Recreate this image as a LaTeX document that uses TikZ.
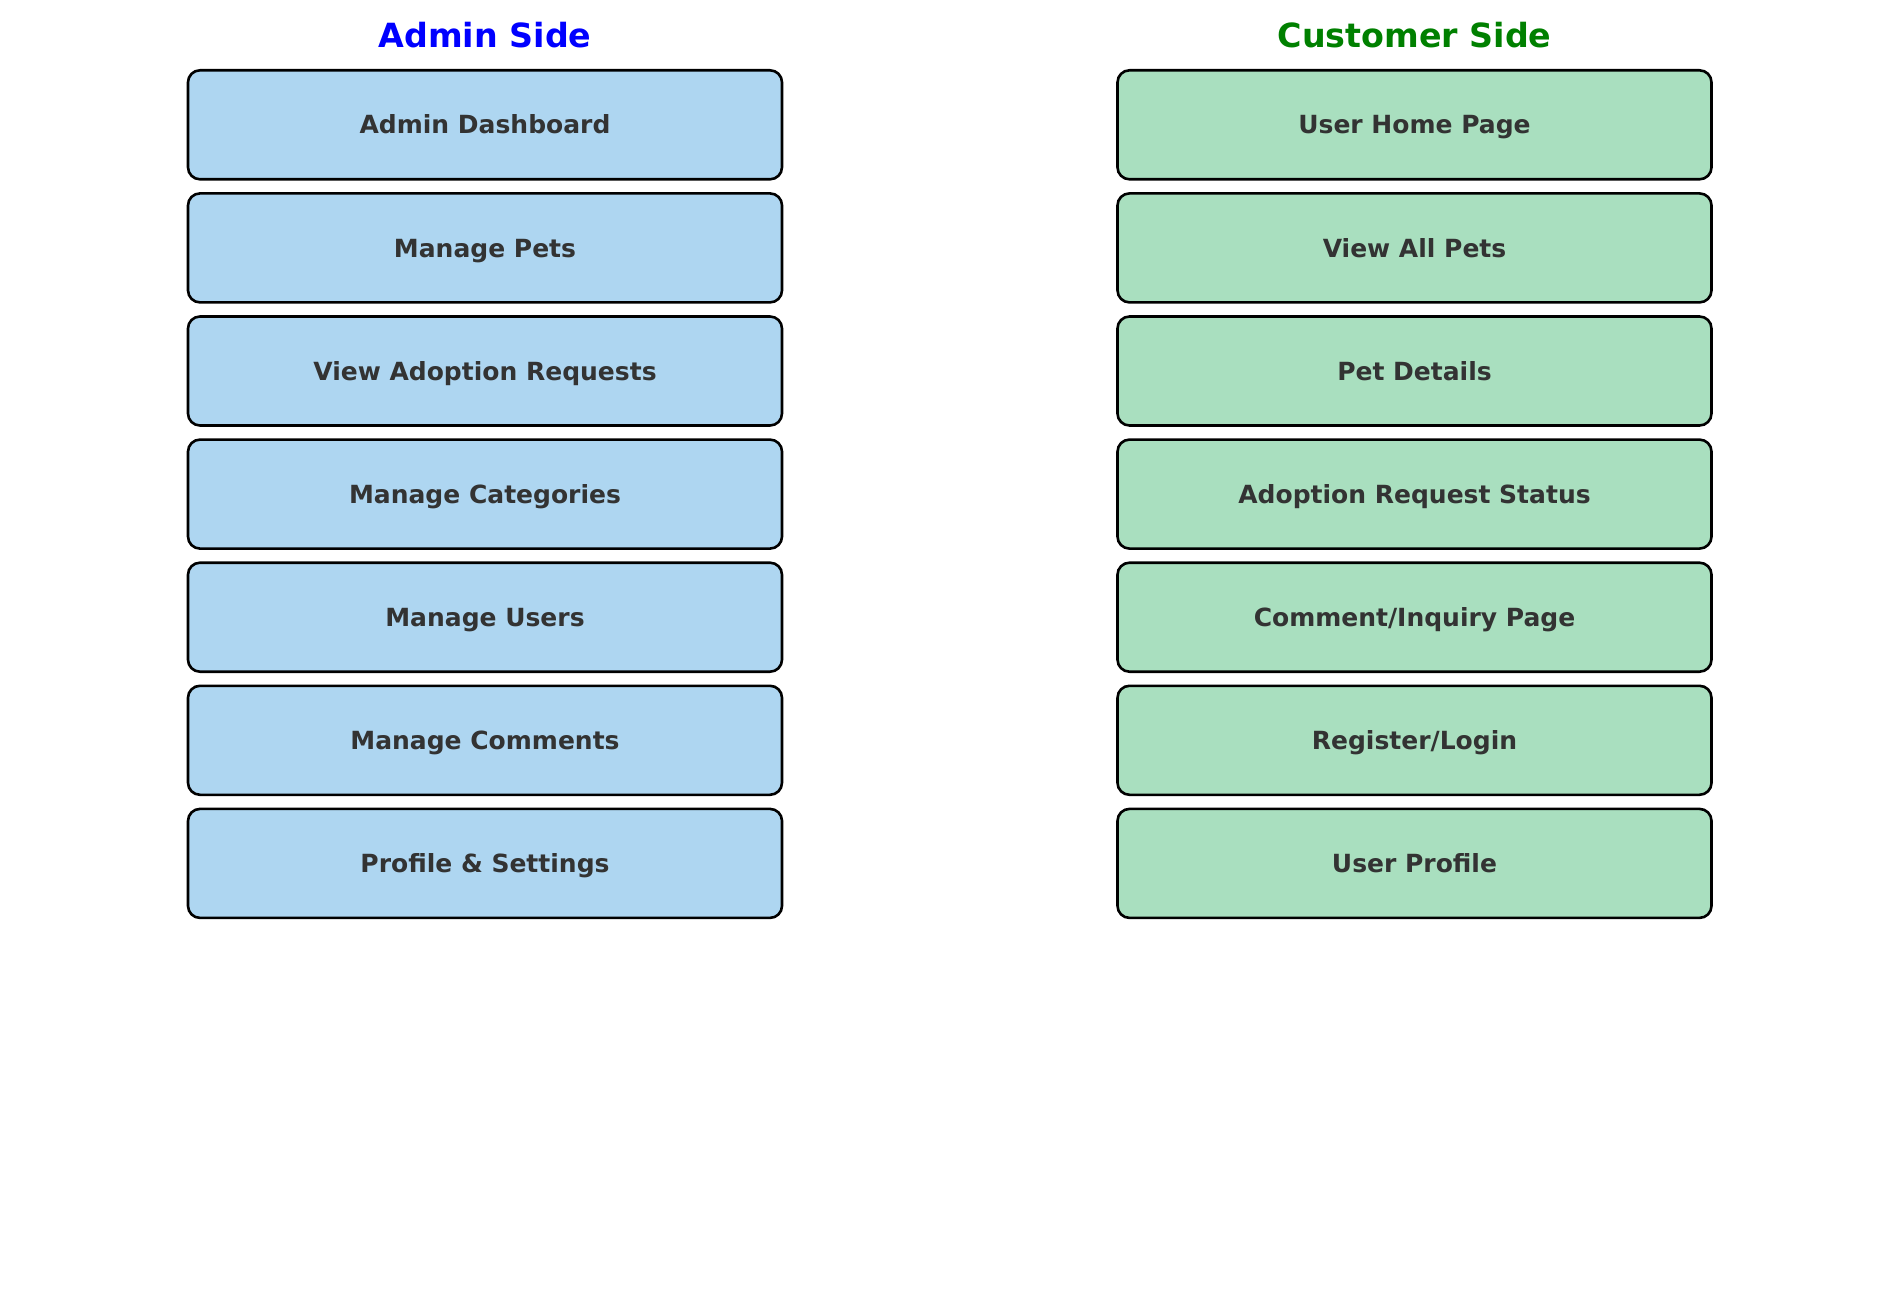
\documentclass[tikz,border=0pt]{standalone}
\usepackage{fontspec}
\setmainfont{DejaVu Sans}
\definecolor{adminfill}{HTML}{AED6F1}
\definecolor{custfill}{HTML}{A9DFBF}
\definecolor{labeltext}{HTML}{333333}
\definecolor{titleblue}{HTML}{0000FF}
\definecolor{titlegreen}{HTML}{008000}
\tikzset{
  pagebox/.style={draw=black, line width=2.6pt, rounded corners=12pt,
    minimum width=594pt, minimum height=109pt, inner sep=0pt,
    text height=18.3pt, text depth=0pt,
    text=labeltext, font=\bfseries\fontsize{25}{30}\selectfont},
  adminbox/.style={pagebox, fill=adminfill},
  custbox/.style={pagebox, fill=custfill},
  sidetitle/.style={font=\bfseries\fontsize{33.3}{40}\selectfont, inner sep=0pt,
    text height=24.3pt, text depth=0pt}
}
\begin{document}
\begin{tikzpicture}[x=1pt,y=-1pt]
\useasboundingbox (0,0) rectangle (1900,1297);
\node[sidetitle, text=titleblue] (tadmin) at (485,35) {Admin Side};
\node[sidetitle, text=titlegreen] (tcust) at (1414.5,35) {Customer Side};
\foreach \i/\txt in {0/{Admin Dashboard},1/{Manage Pets},2/{View Adoption Requests},3/{Manage Categories},4/{Manage Users},5/{Manage Comments},6/{Profile \& Settings}}{
  \node[adminbox] (a\i) at (485,124.8+123.1*\i) {\txt};
}
\foreach \i/\txt in {0/{User Home Page},1/{View All Pets},2/{Pet Details},3/{Adoption Request Status},4/{Comment/Inquiry Page},5/{Register/Login},6/{User Profile}}{
  \node[custbox] (c\i) at (1414.5,124.8+123.1*\i) {\txt};
}
\end{tikzpicture}
\end{document}
